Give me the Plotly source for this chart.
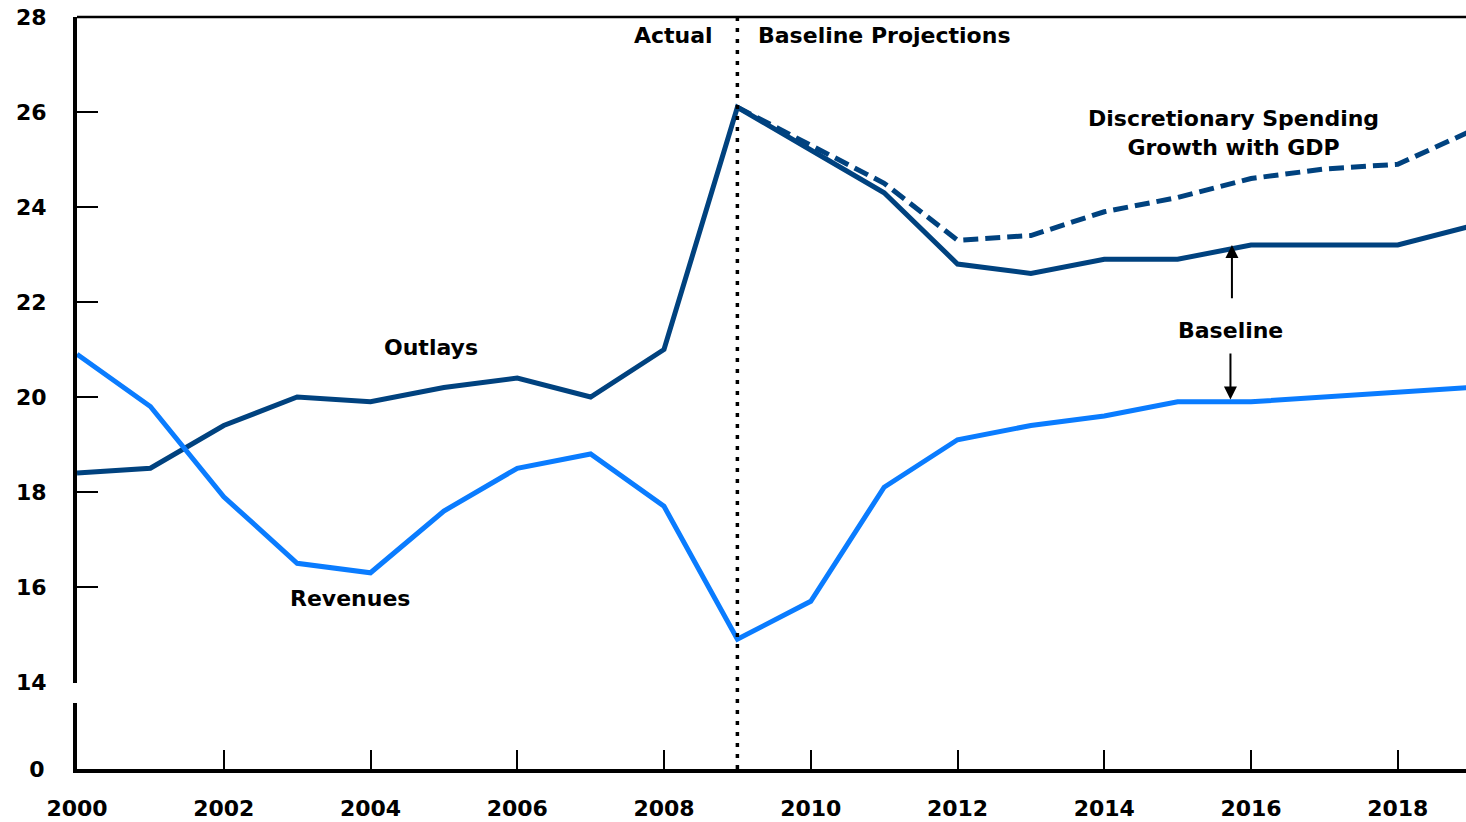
import plotly.graph_objects as go

years = list(range(2000, 2020))
outlays = [18.4, 18.5, 19.4, 20.0, 19.9, 20.2, 20.4, 20.0, 21.0, 26.1,
           25.2, 24.3, 22.8, 22.6, 22.9, 22.9, 23.2, 23.2, 23.2, 23.6]
revenues = [20.9, 19.8, 17.9, 16.5, 16.3, 17.6, 18.5, 18.8, 17.7, 14.9,
            15.7, 18.1, 19.1, 19.4, 19.6, 19.9, 19.9, 20.0, 20.1, 20.2]
disc_years = list(range(2009, 2020))
disc_growth = [26.1, 25.3, 24.5, 23.3, 23.4, 23.9, 24.2, 24.6, 24.8, 24.9, 25.6]

y_ticks = [14, 16, 18, 20, 22, 24, 26, 28]
x_ticks = list(range(2000, 2019, 2))
split_year = 2009

NAVY = "#00427F"
LIGHT = "#0A7CFF"
FONT = "DejaVu Sans"

fig = go.Figure()
fig.add_trace(go.Scatter(x=disc_years, y=disc_growth, mode="lines",
                         line=dict(color=NAVY, width=5, dash="15px,7px"),
                         xaxis="x", yaxis="y", hoverinfo="skip"))
fig.add_trace(go.Scatter(x=years, y=outlays, mode="lines",
                         line=dict(color=NAVY, width=5),
                         xaxis="x", yaxis="y"))
fig.add_trace(go.Scatter(x=years, y=revenues, mode="lines",
                         line=dict(color=LIGHT, width=5),
                         xaxis="x", yaxis="y"))
# empty trace so the lower (broken) axis segment is drawn
fig.add_trace(go.Scatter(x=[], y=[], mode="lines", xaxis="x", yaxis="y2",
                         hoverinfo="skip"))

tickfont = dict(family=FONT, size=22, color="black", weight="bold")

fig.update_layout(
    width=1466, height=822,
    margin=dict(l=77, r=0, t=17, b=53, autoexpand=False),
    paper_bgcolor="white", plot_bgcolor="white",
    showlegend=False,
    font=dict(family=FONT, color="black"),
    xaxis=dict(range=[2000, 2018.93], anchor="y2", tickvals=x_ticks,
               ticktext=[str(v) for v in x_ticks],
               ticks="inside", ticklen=19, tickwidth=2, tickcolor="black",
               showline=True, linewidth=4, linecolor="black",
               showgrid=False, zeroline=False, tickfont=tickfont,
               ticklabelstandoff=17, automargin=False),
    yaxis=dict(domain=[0.1144, 1], range=[13.98, 28], tickvals=y_ticks,
               ticks="inside", ticklen=21, tickwidth=2, tickcolor="black",
               showline=True, linewidth=4, linecolor="black",
               showgrid=False, zeroline=False, tickfont=tickfont,
               anchor="x", ticklabelstandoff=22, automargin=False),
    yaxis2=dict(domain=[0, 0.0878], range=[0, 1], tickvals=[0],
                ticks="", showline=True, linewidth=4, linecolor="black",
                showgrid=False, zeroline=False, tickfont=tickfont,
                anchor="x", ticklabelstandoff=24, automargin=False),
)

# top border line
fig.add_shape(type="line", xref="paper", yref="y domain", x0=0, x1=1, y0=1, y1=1,
              line=dict(color="black", width=2.5))
# vertical dotted divider
fig.add_shape(type="line", xref="x", yref="paper", x0=split_year, x1=split_year,
              y0=0, y1=1, line=dict(color="black", width=3.5, dash="4px,7px"))

lab = dict(family=FONT, size=22, color="black")
fig.add_annotation(x=split_year, y=1, xref="x", yref="paper", text="<b>Actual</b>",
                   showarrow=False, xanchor="right", yanchor="top", xshift=-22, yshift=-4, font=lab)
fig.add_annotation(x=split_year, y=1, xref="x", yref="paper", text="<b>Baseline Projections</b>",
                   showarrow=False, xanchor="left", yanchor="top", xshift=19, yshift=-4, font=lab)
fig.add_annotation(x=2004.83, y=21.05, xref="x", yref="y", text="<b>Outlays</b>",
                   showarrow=False, font=lab)
fig.add_annotation(x=2003.72, y=15.75, xref="x", yref="y", text="<b>Revenues</b>",
                   showarrow=False, font=lab)
fig.add_annotation(x=2015.76, y=25.55, xref="x", yref="y",
                   text="<b>Discretionary Spending<br>Growth with GDP</b>",
                   showarrow=False, font=lab)
fig.add_annotation(x=2015.72, y=21.4, xref="x", yref="y", text="<b>Baseline</b>",
                   showarrow=False, font=lab)
# arrows
fig.add_annotation(x=2015.74, y=23.2, ax=2015.74, ay=22.05, xref="x", yref="y",
                   axref="x", ayref="y", text="", showarrow=True,
                   arrowhead=2, arrowsize=1.3, arrowwidth=2, arrowcolor="black")
fig.add_annotation(x=2015.72, y=19.95, ax=2015.72, ay=20.95, xref="x", yref="y",
                   axref="x", ayref="y", text="", showarrow=True,
                   arrowhead=2, arrowsize=1.3, arrowwidth=2, arrowcolor="black")

fig.write_html("out.html", config={"displayModeBar": False},
               post_script="document.body.style.margin='0';document.body.style.overflow='hidden';")
